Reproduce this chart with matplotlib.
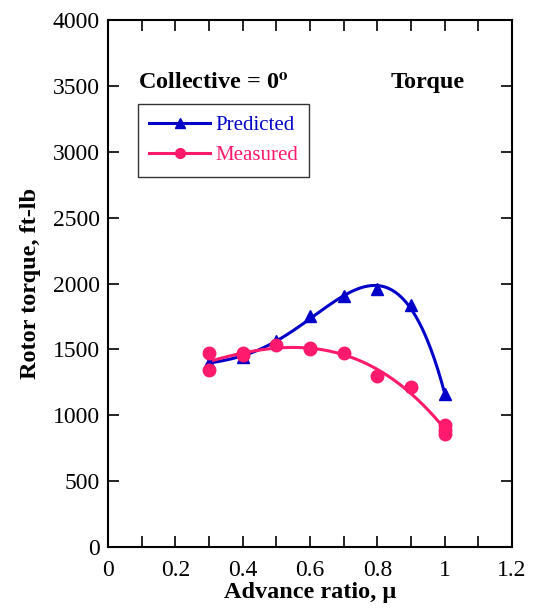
import numpy as np
import matplotlib.pyplot as plt
from matplotlib.ticker import MultipleLocator, FormatStrFormatter

plt.rcParams['font.family'] = ['Liberation Serif', 'DejaVu Serif']
plt.rcParams['mathtext.fontset'] = 'stix'

# predicted torque (triangles)
mu_pred = [0.3, 0.4, 0.5, 0.6, 0.7, 0.8, 0.9, 1.0]
torque_pred = [1400, 1440, 1565, 1750, 1905, 1955, 1835, 1160]

# measured torque (circles)
mu_meas = [0.3, 0.3, 0.4, 0.4, 0.5, 0.6, 0.6, 0.7, 0.8, 0.9, 1.0, 1.0, 1.0]
torque_meas = [1475, 1345, 1470, 1455, 1535, 1510, 1500, 1475, 1295, 1215, 925, 890, 860]

blue = '#0000c8'
pink = '#ff1a6e'

fig = plt.figure(figsize=(5.33, 6.11), dpi=100)
ax = fig.add_axes([0.2026, 0.1047, 0.758, 0.8626])

# polynomial curve fits through the points
xs = np.linspace(0.3, 1.0, 200)
cp = np.polyfit(mu_pred, torque_pred, 4)
cm = np.polyfit(mu_meas, torque_meas, 3)
ax.plot(xs, np.polyval(cp, xs), color=blue, lw=2.2)
ax.plot(xs, np.polyval(cm, xs), color=pink, lw=2.2)
ax.plot(mu_pred, torque_pred, '^', color=blue, ms=8, ls='none')
ax.plot(mu_meas, torque_meas, 'o', color=pink, ms=9, ls='none')

# legend handles
ax.plot([], [], '-^', color=blue, lw=2.2, ms=7, label='Predicted')
ax.plot([], [], '-o', color=pink, lw=2.2, ms=7, label='Measured')
handles, labels = ax.get_legend_handles_labels()
leg = ax.legend(handles[-2:], labels[-2:], loc='upper left', bbox_to_anchor=(0.074, 0.84),
                fontsize=15, frameon=True, fancybox=False, edgecolor='black',
                handlelength=2.9, handletextpad=0.25, borderpad=0.55, labelspacing=0.5,
                borderaxespad=0)
leg.get_frame().set_linewidth(1.0)
for t, c in zip(leg.get_texts(), [blue, pink]):
    t.set_color(c)

ax.text(0.075, 0.878, r'Collective = 0$^{\mathbf{o}}$', transform=ax.transAxes,
        fontsize=17.5, fontweight='bold', va='center')
ax.text(0.700, 0.882, 'Torque', transform=ax.transAxes,
        fontsize=17.5, fontweight='bold', va='center')

ax.set_xlim(0, 1.2)
ax.set_ylim(0, 4000)
ax.xaxis.set_major_locator(MultipleLocator(0.2))
ax.xaxis.set_minor_locator(MultipleLocator(0.1))
ax.xaxis.set_major_formatter(FormatStrFormatter('%g'))
ax.yaxis.set_major_locator(MultipleLocator(500))
ax.tick_params(which='both', direction='in', top=True, right=True, labelsize=17,
               width=1.2, pad=6)
ax.tick_params(axis='x', which='both', pad=9)
ax.tick_params(which='major', length=8)
ax.tick_params(which='minor', length=8)
for s in ax.spines.values():
    s.set_linewidth(1.5)

ax.set_xlabel('Advance ratio, \u03bc', fontsize=17.5, fontweight='bold', labelpad=1)
ax.set_ylabel('Rotor torque, ft-lb', fontsize=17.5, fontweight='bold', labelpad=8)

fig.savefig('out.png', dpi=100)
